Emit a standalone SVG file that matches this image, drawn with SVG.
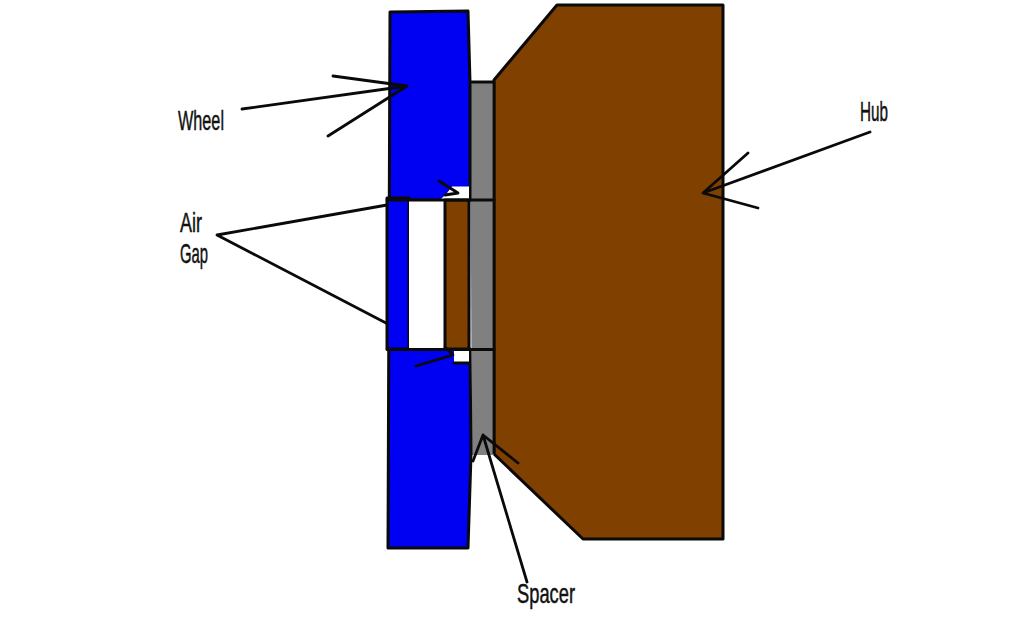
<svg xmlns="http://www.w3.org/2000/svg" width="1024" height="632" viewBox="0 0 1024 632">
<style>
.o{stroke:#0a0a0a;stroke-width:3;stroke-linejoin:round}
.l{fill:none;stroke:#0a0a0a;stroke-width:2.800;stroke-linecap:round;stroke-linejoin:round}
.b{fill:#0000f2}.h{fill:#804000}.g{fill:#808080}.w{fill:#fff}
text{font-family:"Liberation Sans",Arial,sans-serif;font-size:28px;fill:#111;stroke:#111;stroke-width:.5}
</style>
<rect width="1024" height="632" fill="#fff"/>
<g id="hub"><path class="o h" d="M494 80L557 5H723V539H583L494 454Z"/></g>
<g id="spacer"><path class="g" d="M470 82H494V455H472Z"/><path class="l" d="M470 82H494V453"/></g>
<g id="wheel">
<path class="o b" d="M390 12L468 11L470 82L470 200H388V349H470L471 455L468 548H388Z"/>
<path class="o b" d="M387 198H409V349H387Z"/>
</g>
<g id="air-gap">
<rect class="w" x="409" y="200" width="35" height="149"/>
<path class="w" d="M452 186.500H469V199H441Q447 194 452 186.500Z"/>
<path class="w" d="M454 351H469V362H454Z"/>
<path class="l" d="M454 363H469" stroke-width="1.500"/>
<path class="o h" d="M445 200H469V349H445Z"/>
</g>
<g id="connectors">
<path class="l" d="M387 200H494M387 349.500H494"/>
<path class="l" d="M242 109L407 86L333 76M407 86L328 136"/>
<path class="l" d="M387 205L217 235L386 323"/>
<path class="l" d="M439 181L458 193L445 195"/>
<path class="l" d="M416 366L453 355L445 347"/>
<path class="l" d="M870 132L703 193L748 153M703 193L758 208"/>
<path class="l" d="M527 582L483 435L473 461M483 435L518 463"/>
</g>
<g id="labels">
<text x="178" y="130" textLength="46" lengthAdjust="spacingAndGlyphs">Wheel</text>
<text x="180" y="232" textLength="22" lengthAdjust="spacingAndGlyphs">Air</text>
<text x="180" y="263" textLength="28" lengthAdjust="spacingAndGlyphs">Gap</text>
<text x="860" y="121" textLength="28" lengthAdjust="spacingAndGlyphs">Hub</text>
<text x="517" y="603" textLength="58" lengthAdjust="spacingAndGlyphs">Spacer</text>
</g>
</svg>
